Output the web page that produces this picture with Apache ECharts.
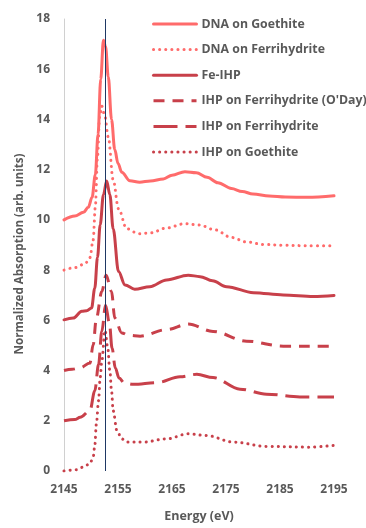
<!DOCTYPE html>
<html><head><meta charset="utf-8">
<script src="https://cdn.jsdelivr.net/npm/echarts@6/dist/echarts.min.js"></script>
<style>html,body{margin:0;padding:0;background:#fff}#c{width:366px;height:528px}</style>
</head><body><div id="c"></div>
<script>
// Data
const xTicks = [2145, 2155, 2165, 2175, 2185, 2195];
const yTicks = [0, 2, 4, 6, 8, 10, 12, 14, 16, 18];
const edgeEnergy = 2152.7;

const dnaGoethiteX = [2145, 2147, 2148.6, 2149.5, 2150.2, 2150.8, 2151.3, 2151.8, 2152.3, 2152.7, 2153.2, 2153.8, 2154.4, 2155.0, 2155.7, 2157.2, 2159, 2161, 2163.4, 2165, 2167.4, 2169.5, 2171.5, 2173.5, 2176, 2178, 2180, 2183, 2186, 2190, 2195];
const dnaGoethiteY = [10.0, 10.15, 10.3, 10.5, 10.9, 11.8, 13.4, 15.6, 17.15, 16.9, 15.7, 14.0, 12.8, 12.25, 11.9, 11.56, 11.5, 11.55, 11.63, 11.78, 11.92, 11.88, 11.7, 11.48, 11.25, 11.13, 11.03, 10.95, 10.91, 10.9, 10.96];

const dnaFerriX = [2145, 2147, 2148.9, 2149.8, 2150.4, 2150.8, 2151.2, 2151.6, 2152.0, 2152.5, 2153.2, 2154.1, 2155.1, 2156.6, 2158.8, 2161, 2164, 2167.4, 2170, 2173, 2176, 2178.8, 2182, 2185.6, 2190, 2195];
const dnaFerriY = [8.0, 8.1, 8.25, 8.5, 9.2, 10.5, 12.5, 14.1, 14.53, 14.2, 13.3, 11.6, 10.44, 9.65, 9.45, 9.48, 9.68, 9.85, 9.8, 9.6, 9.3, 9.12, 9.02, 8.99, 8.97, 8.97];

const feIhpX = [2145, 2146.7, 2148.3, 2149.2, 2150.1, 2150.7, 2151.2, 2151.7, 2152.3, 2152.9, 2153.5, 2154.1, 2155.1, 2156.3, 2158.1, 2160.9, 2164, 2168, 2170.2, 2172.5, 2175.1, 2180.1, 2185.6, 2191.2, 2195];
const feIhpY = [6.02, 6.09, 6.36, 6.38, 6.49, 7.28, 8.5, 9.8, 11.0, 11.55, 11.0, 9.65, 7.94, 7.41, 7.24, 7.34, 7.61, 7.8, 7.74, 7.58, 7.34, 7.1, 7.01, 6.95, 6.99];

const odayX = [2145, 2146.5, 2148, 2149.8, 2150.4, 2151.0, 2152.0, 2152.8, 2153.8, 2154.4, 2155.7, 2157, 2159.1, 2164, 2168, 2172.6, 2178.8, 2185.6, 2193.6, 2195];
const odayY = [4.0, 4.05, 4.11, 4.3, 5.03, 6.09, 7.15, 7.8, 7.15, 6.09, 5.5, 5.4, 5.37, 5.63, 5.85, 5.56, 5.17, 4.97, 4.97, 4.97];

const ihpFerriX = [2145, 2147, 2148, 2149.8, 2150.7, 2151.4, 2152.0, 2152.7, 2153.4, 2153.9, 2154.5, 2155.2, 2156.2, 2157.8, 2162.2, 2166.5, 2169.6, 2172.6, 2177.6, 2182.5, 2188.7, 2195];
const ihpFerriY = [2.0, 2.05, 2.14, 2.4, 3.19, 4.24, 5.56, 6.6, 5.9, 4.9, 4.1, 3.7, 3.5, 3.45, 3.52, 3.75, 3.85, 3.72, 3.26, 3.06, 2.95, 2.95];

const ihpGoethiteX = [2145, 2147.3, 2148.6, 2149.8, 2150.4, 2150.7, 2151.0, 2151.4, 2151.7, 2152.0, 2152.6, 2153.1, 2153.5, 2153.8, 2154.1, 2154.8, 2155.7, 2156.6, 2159.7, 2164, 2168, 2171.4, 2176.4, 2182.5, 2190.5, 2195];
const ihpGoethiteY = [0.0, 0.05, 0.16, 0.29, 0.55, 1.0, 1.87, 2.8, 3.72, 4.38, 5.6, 4.9, 3.98, 3.19, 2.4, 1.61, 1.28, 1.15, 1.15, 1.28, 1.48, 1.41, 1.15, 0.98, 0.95, 1.02];

const seriesNames = ['DNA on Goethite', 'DNA on Ferrihydrite', 'Fe-IHP', "IHP on Ferrihydrite (O'Day)", 'IHP on Ferrihydrite', 'IHP on Goethite'];

const LIGHT = '#FF6B6B', DARK = '#C8404A', TXT = '#595959';
const FONT = '"Open Sans", "Noto Sans", sans-serif';

function pairs(xs, ys) { return xs.map((x, i) => [x, ys[i]]); }
function mk(name, xs, ys, color, type, cap, extra) {
  return Object.assign({
    name, type: 'line', data: pairs(xs, ys), showSymbol: false, symbol: 'none',
    smooth: 0.35, smoothMonotone: 'x',
    lineStyle: { color, width: 3, type, cap: cap || 'round', join: 'round' },
    itemStyle: { color }
  }, extra || {});
}

const chart = echarts.init(document.getElementById('c'), null, { renderer: 'canvas' });
chart.setOption({
  animation: false,
  grid: { left: 64, right: 32, top: 19, bottom: 54 },
  legend: {
    data: seriesNames, orient: 'vertical', left: 152, top: 17, padding: 0,
    itemWidth: 43, itemHeight: 14, itemGap: 11.6,
    itemStyle: { opacity: 0 },
    lineStyle: { width: 3 },
    textStyle: { color: TXT, fontFamily: FONT, fontWeight: 'bold', fontSize: 12.3, lineHeight: 14 }
  },
  xAxis: {
    type: 'value', min: 2145, max: 2195,
    name: 'Energy (eV)', nameLocation: 'middle', nameGap: 39,
    nameTextStyle: { color: TXT, fontFamily: FONT, fontWeight: 'bold', fontSize: 12.5 },
    axisLine: { show: false }, axisTick: { show: false }, splitLine: { show: false },
    axisLabel: { customValues: xTicks, formatter: v => String(v), color: TXT, fontFamily: FONT, fontWeight: 'bold', fontSize: 12, margin: 13 }
  },
  yAxis: {
    type: 'value', min: 0, max: 18, interval: 2,
    name: 'Normalized Absorption (arb. units)', nameLocation: 'middle', nameGap: 33,
    nameTextStyle: { color: TXT, fontFamily: FONT, fontWeight: 'bold', fontSize: 11.6, padding: [0, 18, 0, 0] },
    axisLine: { show: true, lineStyle: { color: '#D0D0D0', width: 1 } },
    axisTick: { show: false }, splitLine: { show: false },
    axisLabel: { customValues: yTicks, color: TXT, fontFamily: FONT, fontWeight: 'bold', fontSize: 12, margin: 14 }
  },
  series: [
    mk(seriesNames[0], dnaGoethiteX, dnaGoethiteY, LIGHT, 'solid', 'round', {
      markLine: { silent: true, symbol: 'none', label: { show: false },
        lineStyle: { color: '#1F3864', width: 1, type: 'solid' }, data: [{ xAxis: edgeEnergy }] }
    }),
    mk(seriesNames[1], dnaFerriX, dnaFerriY, LIGHT, [0.1, 6], 'round'),
    mk(seriesNames[2], feIhpX, feIhpY, DARK, 'solid', 'round'),
    mk(seriesNames[3], odayX, odayY, DARK, [11, 8], 'butt'),
    mk(seriesNames[4], ihpFerriX, ihpFerriY, DARK, [24, 8], 'butt'),
    mk(seriesNames[5], ihpGoethiteX, ihpGoethiteY, DARK, [0.1, 6], 'round')
  ]
});
</script></body></html>
